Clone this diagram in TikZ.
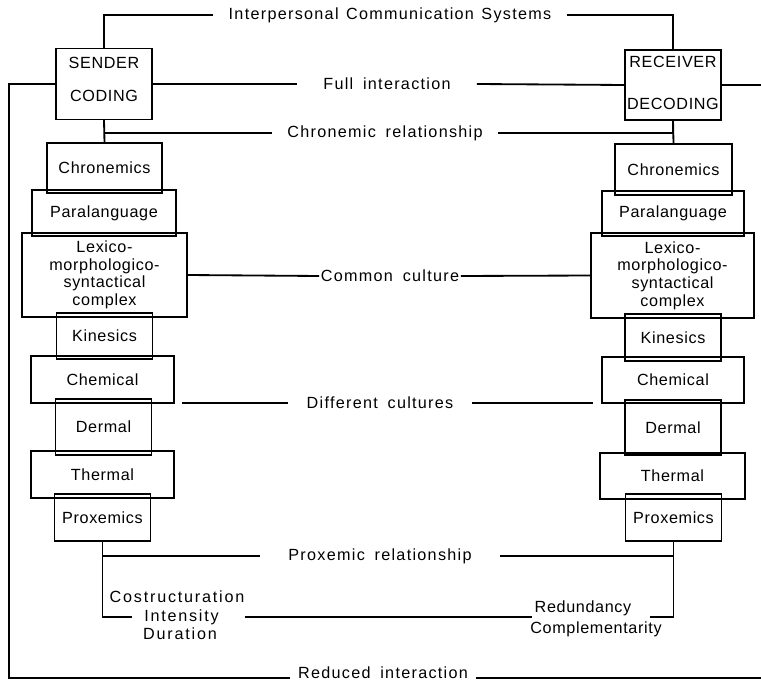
\documentclass[tikz,border=0pt]{standalone}
\usepackage{fontspec}
\setmainfont{Liberation Sans}[LetterSpace=4.0]
\newfontfamily\linkfont{Liberation Sans}[LetterSpace=8.0,WordSpace=3.5]
\newfontfamily\tightlinkfont{Liberation Sans}[LetterSpace=8.0,WordSpace=1.3]
\newfontfamily\loosefont{Liberation Sans}[LetterSpace=11.0]
\usepackage{tikz}
\usetikzlibrary{calc}
\tikzstyle{box} = [rectangle, 
draw=black, 
line width=0.8pt, 
inner sep=0pt, 
text centered, 
align=center]
\tikzstyle{wide} = [box, 
minimum width=3.575cm, 
minimum height=1.175cm]
\tikzstyle{narrow} = [box, 
minimum width=2.4cm, 
minimum height=1.175cm]
\tikzstyle{linktext} = [inner ysep=0pt, 
inner xsep=0.375cm, 
font=\fontsize{11.5}{12.5}\linkfont]
\tikzstyle{link} = [line width=1.3pt]

\begin{document}
\begin{tikzpicture} [x=0.025cm, y=-0.025cm, font=\fontsize{11.5}{12.5}\selectfont]
    \useasboundingbox (0,0) rectangle (761,682);

    % sender side
    \node (sender) [box, minimum width=2.4cm, minimum height=1.775cm, text depth=6.5pt] at (104,84) {SENDER\\[11pt]CODING};
    \node (lchron) [box, minimum width=2.875cm, minimum height=1.25cm] at (104.5,168) {Chronemics};
    \node (lpara) [wide, minimum width=3.6cm, minimum height=1.15cm] at (104,213) {Paralanguage};
    \node (llex) [box, minimum width=4.125cm, minimum height=2.1cm] at (104.5,275) {Lexico-\\morphologico-\\syntactical\\complex};
    \node (lkin) [narrow, minimum height=1.15cm] at (104.5,336) {Kinesics};
    \node (lchem) [wide] at (102.5,379.5) {Chemical};
    \node (lderm) [narrow, minimum height=1.4cm] at (103.5,427) {Dermal};
    \node (ltherm) [wide] at (102.5,474.5) {Thermal};
    \node (lprox) [narrow] at (102.5,517.5) {Proxemics};

    % receiver side
    \node (receiver) [box, minimum width=2.4cm, minimum height=1.75cm, text depth=3pt] at (673,85) {RECEIVER\\[17pt]DECODING};
    \node (rchron) [box, minimum width=2.925cm, minimum height=1.275cm] at (673.5,169.5) {Chronemics};
    \node (rpara) [wide, minimum width=3.55cm, minimum height=1.125cm] at (673,213.5) {Paralanguage};
    \node (rlex) [box, minimum width=4.075cm, minimum height=2.125cm] at (672.5,275.5) {Lexico-\\morphologico-\\syntactical\\complex};
    \node (rkin) [narrow] at (673,337.5) {Kinesics};
    \node (rchem) [wide, minimum width=3.55cm, minimum height=1.15cm] at (673,380) {Chemical};
    \node (rderm) [narrow, minimum height=1.375cm] at (673,427.5) {Dermal};
    \node (rtherm) [wide, minimum width=3.625cm, minimum height=1.15cm] at (672.5,476) {Thermal};
    \node (rprox) [narrow] at (673.5,517.5) {Proxemics};

    % relations
    \node (ics) [linktext, font=\fontsize{11.5}{12.5}\tightlinkfont] at (390,15) {Interpersonal Communication Systems};
    \node (full) [linktext, inner xsep=0.65cm] at (387,84) {Full interaction};
    \node (chrel) [linktext] at (385,133) {Chronemic relationship};
    \node (common) [linktext, inner xsep=1pt, font=\fontsize{11.5}{12.5}\tightlinkfont] at (390,276) {Common culture};
    \node (diff) [linktext, inner xsep=0.45cm] at (380,403) {Different cultures};
    \node (proxrel) [linktext, inner xsep=0.7cm] at (380,556) {Proxemic relationship};
    \node (reduced) [linktext, inner xsep=0.2cm] at (383,673) {Reduced interaction};

    \node (cost) [inner sep=0pt, font=\fontsize{11.5}{12.5}\loosefont] at (177,597) {Costructuration};
    \node (intens) [inner ysep=0pt, inner xsep=0.3cm, font=\fontsize{11.5}{12.5}\loosefont] at (181.5,617) {Intensity};
    \node (dur) [inner sep=0pt, font=\fontsize{11.5}{12.5}\loosefont] at (180,634) {Duration};
    \node (redund) [inner ysep=0pt, inner xsep=2pt] at (583,608) {Redundancy};
    \node (compl) [inner sep=0pt] at (596,629) {Complementarity};

    \coordinate (lbend) at (9,84);
    \coordinate (redge) at (761,85);
    \coordinate (rbottom) at (761,678);
    \coordinate (ldiff) at (182,403);
    \coordinate (rdiff) at (593,403);
    \coordinate (rstub) at (650,617);

    \draw [link] (sender.north) |- (ics.west);
    \draw [link] (ics.east) -| (receiver.north);
    \draw [link] (sender.east) -- (full.west);
    \draw [link] (full.east) -- (receiver.west);
    \draw [link] (sender.west) -- (lbend) |- (reduced.west |- rbottom);
    \draw [link] (reduced.east |- rbottom) -- (rbottom);
    \draw [link] (receiver.east) -- (redge);
    \draw [link] (sender.south) -- (lchron.north);
    \draw [link] (sender.south |- chrel) -- (chrel.west);
    \draw [link] (chrel.east) -| (receiver.south);
    \draw [link] (receiver.south) -- (rchron.north);
    \draw [link] (llex.east) -- (common.west);
    \draw [link] (common.east) -- (rlex.west);
    \draw [link] (ldiff) -- (diff.west);
    \draw [link] (diff.east) -- (rdiff);
    \draw [link] (lprox.south) |- (intens.west);
    \draw [link] (lprox.south |- proxrel) -- (proxrel.west);
    \draw [link] (proxrel.east) -| (rprox.south);
    \draw [link] (rprox.south) |- (rstub);
    \draw [link] (cost.east |- intens) -- (redund.west |- intens);

\end{tikzpicture}
\end{document}
